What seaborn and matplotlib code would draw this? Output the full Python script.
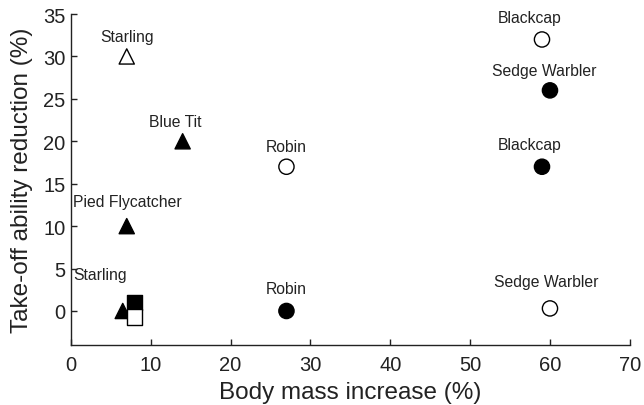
import pandas as pd
import matplotlib
matplotlib.use('Agg')
import matplotlib.pyplot as plt
import seaborn as sns

# body mass increase (%) vs take-off ability reduction (%)
mass_increase = [7, 14, 7, 6.5, 8, 8, 27, 27, 59, 60, 59, 60]
takeoff_reduction = [30, 20, 10, 0, 1, -0.7, 17, 0, 32, 26, 17, 0.3]
shapes = ['triangle', 'triangle', 'triangle', 'triangle', 'square', 'square',
          'circle', 'circle', 'circle', 'circle', 'circle', 'circle']
fills = ['open', 'filled', 'filled', 'filled', 'filled', 'open',
         'open', 'filled', 'open', 'filled', 'filled', 'open']

# species labels and where they sit
label_names = ['Starling', 'Blue Tit', 'Pied Flycatcher', 'Starling', 'Robin', 'Robin',
               'Blackcap', 'Sedge Warbler', 'Blackcap', 'Sedge Warbler']
label_x = [7.1, 13.1, 7.1, 3.7, 27, 27, 57.5, 59.3, 57.5, 59.5]
label_y = [32.3, 22.3, 12.9, 4.3, 19.4, 2.7, 34.6, 28.3, 19.6, 3.5]

df = pd.DataFrame({'mass': mass_increase, 'reduction': takeoff_reduction,
                   'shape': shapes, 'fill': fills})

sns.set_style('ticks')
plt.rcParams['font.family'] = ['Liberation Sans', 'DejaVu Sans']

fig = plt.figure(figsize=(6.44, 4.06), dpi=100)
ax = fig.add_axes([0.110, 0.148, 0.868, 0.815])

sns.scatterplot(data=df, x='mass', y='reduction', style='shape', hue='fill',
                markers={'triangle': '^', 'circle': 'o', 'square': 's'},
                palette={'filled': 'black', 'open': 'white'},
                edgecolor='black', linewidth=1, s=120, legend=False, ax=ax, zorder=3)

for name, lx, ly in zip(label_names, label_x, label_y):
    ax.text(lx, ly, name, ha='center', va='center', fontsize=11.3, color='#222222')

ax.set_xlim(0, 70)
ax.set_ylim(-4, 35)
ax.set_xticks(range(0, 71, 10))
ax.set_yticks(range(0, 36, 5))
ax.tick_params(direction='in', length=4, width=1, labelsize=14.5, color='#222222', labelcolor='#222222')
ax.tick_params(axis='x', pad=7)
ax.tick_params(axis='y', pad=4)
ax.set_xlabel('Body mass increase (%)', fontsize=17.5, color='#222222', labelpad=5)
ax.set_ylabel('Take-off ability reduction (%)', fontsize=17.5, color='#222222', labelpad=7)
sns.despine(ax=ax)
for sp in ['left', 'bottom']:
    ax.spines[sp].set_color('#222222')
    ax.spines[sp].set_linewidth(1)

plt.savefig('out.png', dpi=100)
plt.close()
